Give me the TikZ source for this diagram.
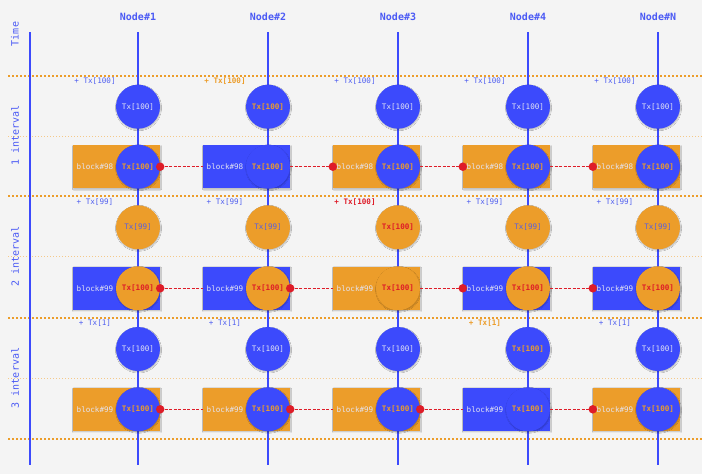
\documentclass[tikz,border=0pt]{standalone}
\usepackage{fontspec}
\setmonofont{DejaVu Sans Mono}
\usetikzlibrary{shadows.blur}
\definecolor{bgc}{RGB}{244,244,244}
\definecolor{cblue}{RGB}{60,74,252}
\definecolor{corange}{RGB}{236,157,42}
\definecolor{cred}{RGB}{222,28,40}
\definecolor{chead}{RGB}{75,90,245}
\definecolor{clight}{RGB}{228,228,242}
\definecolor{ctxtb}{RGB}{85,95,225}
\definecolor{clab}{RGB}{80,95,240}
\begin{document}
\begin{tikzpicture}[x=1pt,y=-1pt,
  shd/.style={blur shadow={shadow blur steps=5, shadow xshift=0.5pt, shadow yshift=-1pt, shadow blur radius=1pt, shadow opacity=25}},
  tx/.style={font=\ttfamily\fontsize{7.6}{9}\selectfont},
  txb/.style={font=\ttfamily\bfseries\fontsize{7.6}{9}\selectfont},
  hdr/.style={font=\ttfamily\bfseries\fontsize{10}{12}\selectfont, text=chead},
  side/.style={font=\ttfamily\fontsize{10}{12}\selectfont, text=chead, rotate=90},
  bc/.style={circle, fill=cblue, minimum size=44pt, inner sep=0pt, shd},
  oc/.style={circle, fill=corange, minimum size=44pt, inner sep=0pt, shd},
  brect/.style={rectangle, fill=cblue, minimum width=87pt, minimum height=43pt, inner sep=0pt, shd},
  orect/.style={rectangle, fill=corange, minimum width=87pt, minimum height=43pt, inner sep=0pt, shd},
  lt/.style={tx, text=clight},
  ot/.style={txb, text=corange},
  bt/.style={tx, text=ctxtb},
  rt/.style={txb, text=cred},
  lbl/.style={tx, text=clab},
  lblo/.style={txb, text=corange},
  lblr/.style={txb, text=cred},
  vline/.style={draw=cblue, line width=1.4pt},
  major/.style={draw=corange, line width=2pt, dash pattern=on 2pt off 2pt},
  minor/.style={draw=corange!55, line width=0.8pt, dash pattern=on 1pt off 2pt},
  link/.style={draw=cred, line width=1.1pt, dash pattern=on 3pt off 1.5pt},
  rdot/.style={circle, fill=cred, minimum size=8.5pt, inner sep=0pt}
]
\useasboundingbox (0,0) rectangle (702,474);
\fill[bgc] (0,0) rectangle (702,474);

% headers
\node[hdr] (h1) at (138,17) {Node\#1};
\node[hdr] (h2) at (268,17) {Node\#2};
\node[hdr] (h3) at (398,17) {Node\#3};
\node[hdr] (h4) at (528,17) {Node\#4};
\node[hdr] (h5) at (658,17) {Node\#N};
\node[side] (time) at (15,34) {Time};
\node[side] (i1) at (15,135.5) {1 interval};
\node[side] (i2) at (15,256.5) {2 interval};
\node[side] (i3) at (15,378) {3 interval};

% dotted separators
\foreach \k/\y in {1/75.5,2/196,3/317.5,4/439}{
  \coordinate (ma\k) at (8,\y); \coordinate (mb\k) at (702,\y);
  \draw[major] (ma\k) -- (mb\k);
}
\foreach \k/\y in {1/136,2/256.7,3/378}{
  \coordinate (na\k) at (8,\y); \coordinate (nb\k) at (702,\y);
  \draw[minor] (na\k) -- (nb\k);
}

% vertical lines
\coordinate (tt) at (30,32); \coordinate (tb) at (30,465);
\draw[vline] (tt) -- (tb);
\foreach \i/\x in {1/138,2/268,3/398,4/528,5/658}{
  \coordinate (top\i) at (\x,32); \coordinate (bot\i) at (\x,465);
  \draw[vline] (top\i) -- (bot\i);
}

% ---------- interval 1 ----------
\node[lbl]  (l11) at (95,80.7) {+ Tx[100]};
\node[lblo] (l12) at (225,80.7) {+ Tx[100]};
\node[lbl]  (l13) at (355,80.7) {+ Tx[100]};
\node[lbl]  (l14) at (485,80.7) {+ Tx[100]};
\node[lbl]  (l15) at (615,80.7) {+ Tx[100]};

\node[bc,lt] (ct11) at (138,106.7) {Tx[100]};
\node[bc,ot] (ct12) at (268,106.7) {Tx[100]};
\node[bc,lt] (ct13) at (398,106.7) {Tx[100]};
\node[bc,lt] (ct14) at (528,106.7) {Tx[100]};
\node[bc,lt] (ct15) at (658,106.7) {Tx[100]};

\node[orect] (r11) at (116.5,166.7) {};
\node[brect] (r12) at (246.5,166.7) {};
\node[orect] (r13) at (376.5,166.7) {};
\node[orect] (r14) at (506.5,166.7) {};
\node[orect] (r15) at (636.5,166.7) {};
\node[lt] (rt11) at (95,166.7) {block\#98};
\node[lt] (rt12) at (225,166.7) {block\#98};
\node[lt] (rt13) at (355,166.7) {block\#98};
\node[lt] (rt14) at (485,166.7) {block\#98};
\node[lt] (rt15) at (615,166.7) {block\#98};

\node[bc,ot] (cb11) at (138,166.7) {Tx[100]};
\node[bc,ot] (cb12) at (268,166.7) {Tx[100]};
\node[bc,ot] (cb13) at (398,166.7) {Tx[100]};
\node[bc,ot] (cb14) at (528,166.7) {Tx[100]};
\node[bc,ot] (cb15) at (658,166.7) {Tx[100]};

% ---------- interval 2 ----------
\node[lbl]  (l21) at (95,202.3) {+ Tx[99]};
\node[lbl]  (l22) at (225,202.3) {+ Tx[99]};
\node[lblr] (l23) at (355,202.3) {+ Tx[100]};
\node[lbl]  (l24) at (485,202.3) {+ Tx[99]};
\node[lbl]  (l25) at (615,202.3) {+ Tx[99]};

\node[oc,bt] (ct21) at (138,227.3) {Tx[99]};
\node[oc,bt] (ct22) at (268,227.3) {Tx[99]};
\node[oc,rt] (ct23) at (398,227.3) {Tx[100]};
\node[oc,bt] (ct24) at (528,227.3) {Tx[99]};
\node[oc,bt] (ct25) at (658,227.3) {Tx[99]};

\node[brect] (r21) at (116.5,288.3) {};
\node[brect] (r22) at (246.5,288.3) {};
\node[orect] (r23) at (376.5,288.3) {};
\node[brect] (r24) at (506.5,288.3) {};
\node[brect] (r25) at (636.5,288.3) {};
\node[lt] (rt21) at (95,288.3) {block\#99};
\node[lt] (rt22) at (225,288.3) {block\#99};
\node[lt] (rt23) at (355,288.3) {block\#99};
\node[lt] (rt24) at (485,288.3) {block\#99};
\node[lt] (rt25) at (615,288.3) {block\#99};

\node[oc,rt] (cb21) at (138,288.3) {Tx[100]};
\node[oc,rt] (cb22) at (268,288.3) {Tx[100]};
\node[oc,rt] (cb23) at (398,288.3) {Tx[100]};
\node[oc,rt] (cb24) at (528,288.3) {Tx[100]};
\node[oc,rt] (cb25) at (658,288.3) {Tx[100]};

% ---------- interval 3 ----------
\node[lbl]  (l31) at (95,323.3) {+ Tx[1]};
\node[lbl]  (l32) at (225,323.3) {+ Tx[1]};
\node[lblo] (l34) at (485,323.3) {+ Tx[1]};
\node[lbl]  (l35) at (615,323.3) {+ Tx[1]};

\node[bc,lt] (ct31) at (138,349) {Tx[100]};
\node[bc,lt] (ct32) at (268,349) {Tx[100]};
\node[bc,lt] (ct33) at (398,349) {Tx[100]};
\node[bc,ot] (ct34) at (528,349) {Tx[100]};
\node[bc,lt] (ct35) at (658,349) {Tx[100]};

\node[orect] (r31) at (116.5,409.3) {};
\node[orect] (r32) at (246.5,409.3) {};
\node[orect] (r33) at (376.5,409.3) {};
\node[brect] (r34) at (506.5,409.3) {};
\node[orect] (r35) at (636.5,409.3) {};
\node[lt] (rt31) at (95,409.3) {block\#99};
\node[lt] (rt32) at (225,409.3) {block\#99};
\node[lt] (rt33) at (355,409.3) {block\#99};
\node[lt] (rt34) at (485,409.3) {block\#99};
\node[lt] (rt35) at (615,409.3) {block\#99};

\node[bc,ot] (cb31) at (138,409.3) {Tx[100]};
\node[bc,ot] (cb32) at (268,409.3) {Tx[100]};
\node[bc,ot] (cb33) at (398,409.3) {Tx[100]};
\node[bc,ot] (cb34) at (528,409.3) {Tx[100]};
\node[bc,ot] (cb35) at (658,409.3) {Tx[100]};

% ---------- links ----------
\draw[link] (cb11.east) -- (r12.west);
\draw[link] (cb12.east) -- (r13.west);
\draw[link] (cb13.east) -- (r14.west);
\draw[link] (cb14.east) -- (r15.west);
\node[rdot] (d11) at (cb11.east) {};
\node[rdot] (d12) at (r13.west) {};
\node[rdot] (d13) at (r14.west) {};
\node[rdot] (d14) at (r15.west) {};

\draw[link] (cb21.east) -- (r22.west);
\draw[link] (cb22.east) -- (r23.west);
\draw[link] (cb23.east) -- (r24.west);
\draw[link] (cb24.east) -- (r25.west);
\node[rdot] (d21) at (cb21.east) {};
\node[rdot] (d22) at (cb22.east) {};
\node[rdot] (d23) at (r24.west) {};
\node[rdot] (d24) at (r25.west) {};

\draw[link] (cb31.east) -- (r32.west);
\draw[link] (cb32.east) -- (r33.west);
\draw[link] (cb33.east) -- (r34.west);
\draw[link] (cb34.east) -- (r35.west);
\node[rdot] (d31) at (cb31.east) {};
\node[rdot] (d32) at (cb32.east) {};
\node[rdot] (d33) at (cb33.east) {};
\node[rdot] (d34) at (r35.west) {};
\end{tikzpicture}
\end{document}
